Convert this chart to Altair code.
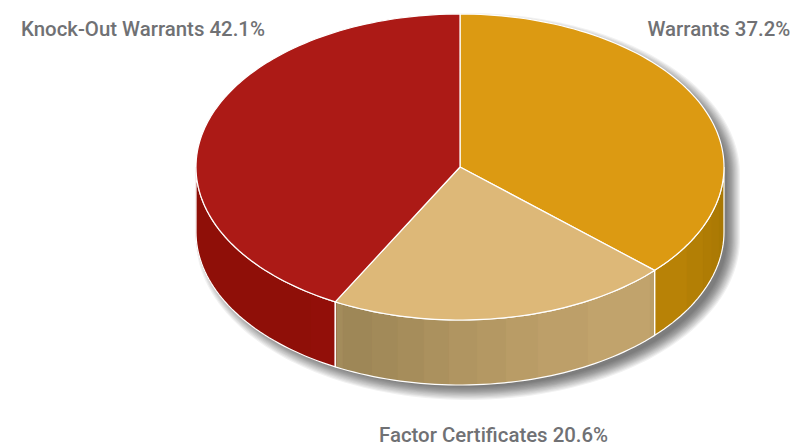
import math
import altair as alt
import pandas as pd

# Shares printed on the labels
CATEGORIES = ["Warrants", "Factor Certificates", "Knock-Out Warrants"]
SHARES = [37.2, 20.6, 42.1]
# Slice extents as drawn in the picture (degrees of ellipse parameter, clockwise from the top)
SLICE_DEGREES = [132.5, 75.7, 151.8]
TOP_COLORS = ["#DC9A12", "#DDB878", "#AC1A16"]

# Side-wall shading strips (left and right end in chart x units, colour)
GOLD_BANDS = [(654, 687, "#B88206"), (687, 703, "#B37F05"), (703, 712, "#AF7C04"), (712, 719, "#AC7A04"), (719, 724, "#A97803")]
TAN_BANDS = [(336, 343, "#A38C5B"), (343, 372, "#9E8757"), (372, 398, "#A28A59"), (398, 424, "#A68D5B"),
             (424, 449, "#AB915E"), (449, 477, "#B09561"), (477, 506, "#B49863"), (506, 538, "#B99C66"),
             (538, 588, "#BD9F69"), (588, 650, "#C1A36C"), (650, 654, "#BBA06A")]
RED_BANDS = [(196, 311, "#8F0F08"), (311, 336, "#920F09")]

LABELS = [f"{c} {s}%" for c, s in zip(CATEGORIES, SHARES)]

CX, CY, RX, RY, DEPTH = 460, 167, 264, 153, 65
X_SCALE = alt.Scale(domain=[8, 790], range=[0, 782])
Y_SCALE = alt.Scale(domain=[8, 446], range=[0, 438])


def pt(t, dy=0, cx=CX, cy=CY, rx=RX, ry=RY):
    r = math.radians(t)
    return cx + rx * math.sin(r), cy - ry * math.cos(r) + dy


def arc(t1, t2, dy=0, n=None, **kw):
    n = n or max(2, int(abs(t2 - t1) / 1.5) + 1)
    return [pt(t1 + (t2 - t1) * i / (n - 1), dy, **kw) for i in range(n)]


def poly(points, **mark):
    closed = list(points) + [points[0]]
    df = pd.DataFrame({"x": [p[0] for p in closed], "y": [p[1] for p in closed], "i": range(len(closed))})
    return alt.Chart(df).mark_line(strokeJoin="round", **mark).encode(
        x=alt.X("x:Q", scale=X_SCALE, axis=None),
        y=alt.Y("y:Q", scale=Y_SCALE, axis=None),
        order="i:Q",
    )


def x_to_t(x):
    return 180 - math.degrees(math.asin(max(-1, min(1, (x - CX) / RX))))


layers = []

# soft drop shadow from stacked translucent silhouettes
for e in [8, 6.8, 5.6, 4.4, 3.2, 2, 1, 0, -1.2, -2.5, -3.8, -5]:
    kw = dict(cx=CX + 8, cy=CY + 7, rx=RX + e, ry=RY + e)
    sil = arc(-90, 90, 0, **kw) + arc(90, 270, DEPTH, **kw)
    layers.append(poly(sil, fill="#000000", fillOpacity=0.055, strokeOpacity=0, stroke="#000000"))

# wedge bounds
bounds = [0]
for d in SLICE_DEGREES:
    bounds.append(bounds[-1] + d)

# side walls
for x1, x2, col in GOLD_BANDS + TAN_BANDS + RED_BANDS:
    t1, t2 = x_to_t(x2), x_to_t(x1)
    layers.append(poly(arc(t1, t2) + arc(t2, t1, DEPTH), fill=col, stroke=col, strokeWidth=0.4))

# wall outlines
for t1, t2 in [(90, bounds[1]), (bounds[1], bounds[2]), (bounds[2], 270)]:
    layers.append(poly(arc(t1, t2) + arc(t2, t1, DEPTH), fillOpacity=0, fill="#ffffff", stroke="#ffffff", strokeWidth=1.2))

# top face
for i, col in enumerate(TOP_COLORS):
    layers.append(poly([(CX, CY)] + arc(bounds[i], bounds[i + 1]), fill=col, stroke="#ffffff", strokeWidth=1.2))

# labels
label_df = pd.DataFrame({"t": LABELS, "x": [647.5, 379, 21], "y": [36, 441.5, 36]})
layers.append(
    alt.Chart(label_df).mark_text(align="left", baseline="alphabetic", font="Roboto", fontSize=20.4,
                                  fontWeight=500, color="#707174").encode(
        x=alt.X("x:Q", scale=X_SCALE, axis=None),
        y=alt.Y("y:Q", scale=Y_SCALE, axis=None),
        text="t:N",
    )
)

chart = alt.layer(*layers).properties(
    width=782, height=438, padding=0, autosize=alt.AutoSizeParams(type="none"), background="#ffffff"
).configure_view(strokeWidth=0)

chart.save("out.html", embed_options={"renderer": "svg", "actions": False})
